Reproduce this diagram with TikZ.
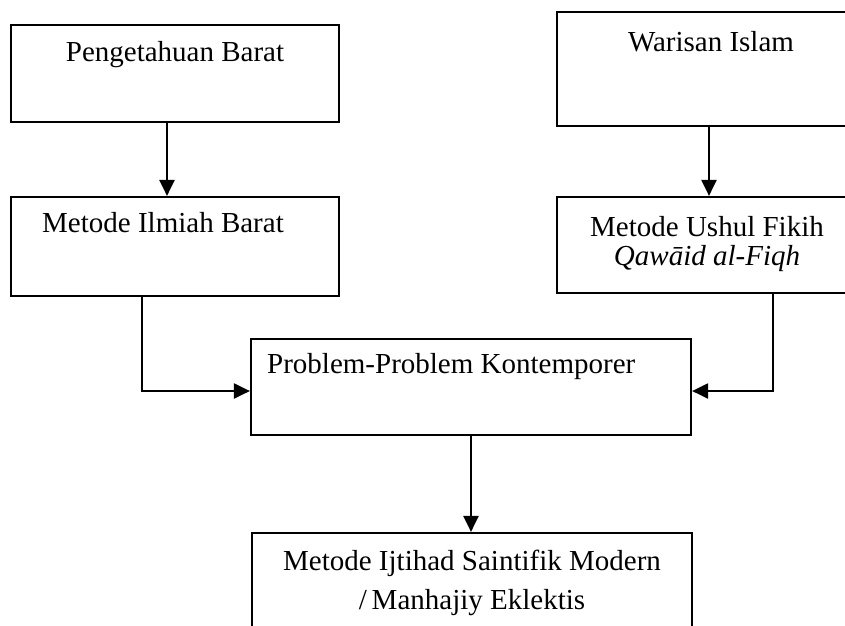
\documentclass[tikz,border=0pt]{standalone}
\usepackage{fontspec}
\setmainfont{Liberation Serif}
\usetikzlibrary{arrows.meta}
\tikzset{
  box/.style={draw=black, line width=2.2pt, rectangle, inner sep=0pt},
  conn/.style={line width=2.2pt, -{Triangle[length=16pt,width=15pt]}},
  txt/.style={inner sep=0pt, font=\fontsize{29}{31}\selectfont, text=black},
}
\begin{document}
\begin{tikzpicture}[x=1pt,y=-1pt]
\useasboundingbox (0,0) rectangle (845,625);
\clip (0,0) rectangle (845,625);
% boxes
\node[box, minimum width=328pt, minimum height=97pt] (b1) at (175,73.5) {};
\node[box, minimum width=328pt, minimum height=99pt] (b3) at (175,246.5) {};
\node[box, minimum width=304pt, minimum height=114pt] (b2) at (709,69) {};
\node[box, minimum width=304pt, minimum height=96pt] (b4) at (709,245) {};
\node[box, minimum width=440pt, minimum height=96pt] (b5) at (471,387) {};
\node[box, minimum width=440pt, minimum height=127pt] (b6) at (472,596.5) {};
% texts
\node[txt] (t1) at (175,55) {Pengetahuan Barat};
\node[txt] (t2) at (711,42) {Warisan Islam};
\node[txt, anchor=west] (t3) at (42,223) {Metode Ilmiah Barat};
\node[txt] (t4a) at (707,227) {Metode Ushul Fikih};
\node[txt] (t4b) at (707,259) {\itshape Qawāid al-Fiqh};
\node[txt, anchor=west] (t5) at (267,367) {Problem-Problem Kontemporer};
\node[txt] (t6a) at (472,563) {Metode Ijtihad Saintifik Modern};
\node[txt] (t6b) at (472,603) {/\,Manhajiy Eklektis};
% connectors
\coordinate (ac) at (167,0);
\coordinate (bc) at (709,0);
\coordinate (cc) at (471,0);
\coordinate (lc) at (142,391);
\coordinate (rc) at (773,391);
\draw[conn] (b1.south -| ac) -- (b3.north -| ac);
\draw[conn] (b2.south -| bc) -- (b4.north -| bc);
\draw[conn] (b3.south -| lc) -- (lc) -- (b5.west |- lc);
\draw[conn] (b4.south -| rc) -- (rc) -- (b5.east |- rc);
\draw[conn] (b5.south -| cc) -- (b6.north -| cc);
\end{tikzpicture}
\end{document}
